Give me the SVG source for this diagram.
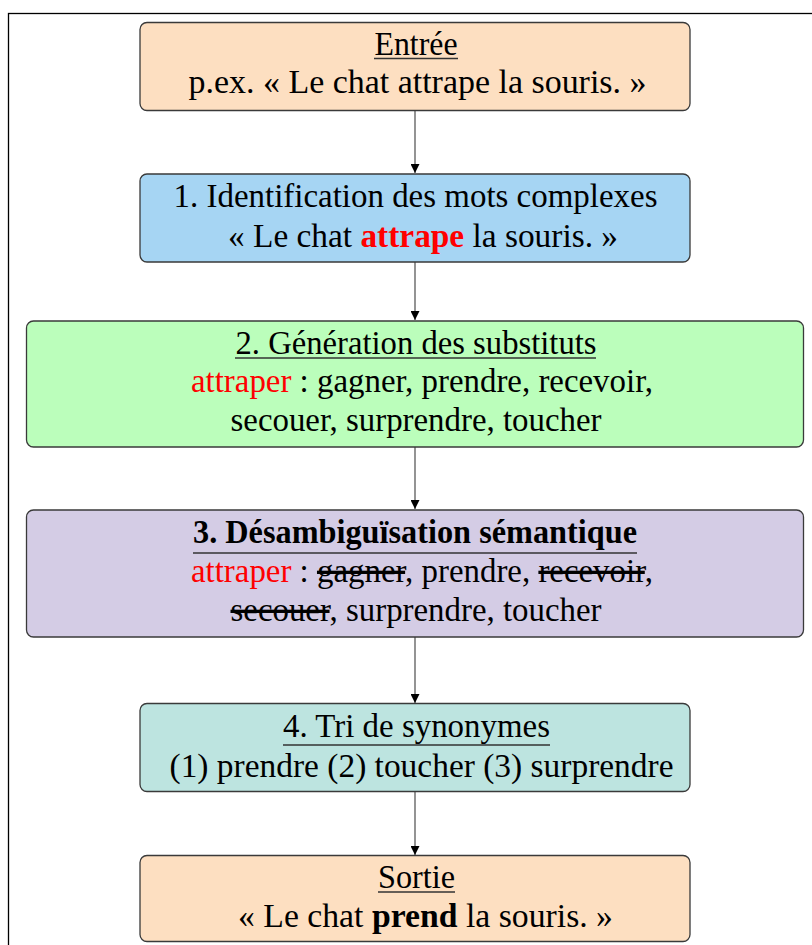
<svg xmlns="http://www.w3.org/2000/svg" width="812" height="945" viewBox="0 0 812 945">
<defs>
<style>
.box{stroke:#3a3a3a;stroke-width:1.3}
.t{font-family:"Liberation Serif","Times New Roman",serif;font-size:33px;fill:#000;text-anchor:middle}
.r{fill:#ff0000}
.b{font-weight:bold}
.s{text-decoration:line-through}
.ul{stroke:#333;stroke-width:1.3}
.conn{stroke:#666;stroke-width:1.4;fill:none}
</style>
<marker id="ah" viewBox="0 0 10 10" refX="10" refY="5" markerWidth="9" markerHeight="9" markerUnits="userSpaceOnUse" orient="auto">
<path d="M0,0 L10,5 L0,10 z" fill="#000"/>
</marker>
</defs>
<rect x="0" y="0" width="812" height="945" fill="#fff"/>
<rect x="8.5" y="13.5" width="900" height="1000" fill="none" stroke="#000" stroke-width="1.3"/>

<g id="connectors">
<line class="conn" x1="415" y1="111" x2="415" y2="173" marker-end="url(#ah)"/>
<line class="conn" x1="415" y1="262" x2="415" y2="320" marker-end="url(#ah)"/>
<line class="conn" x1="415" y1="447" x2="415" y2="509" marker-end="url(#ah)"/>
<line class="conn" x1="415" y1="637" x2="415" y2="703" marker-end="url(#ah)"/>
<line class="conn" x1="415" y1="791" x2="415" y2="855" marker-end="url(#ah)"/>
</g>

<g id="entree">
<rect class="box" x="140" y="22.5" width="550" height="88" rx="7" fill="#fddfc1"/>
<text class="t" x="416" y="55" textLength="83" lengthAdjust="spacingAndGlyphs">Entrée</text>
<line class="ul" x1="374" y1="58.5" x2="458" y2="58.5"/>
<text class="t" x="417.5" y="93" textLength="458" lengthAdjust="spacingAndGlyphs">p.ex. « Le chat attrape la souris. »</text>
</g>

<g id="step1">
<rect class="box" x="140" y="174" width="550" height="88" rx="7" fill="#a6d5f3"/>
<text class="t" x="415.5" y="207" textLength="484" lengthAdjust="spacingAndGlyphs">1. Identification des mots complexes</text>
<text class="t" x="423" y="247" textLength="390" lengthAdjust="spacingAndGlyphs">« Le chat <tspan class="b r">attrape</tspan> la souris. »</text>
</g>

<g id="step2">
<rect class="box" x="26.5" y="321" width="777" height="126" rx="7" fill="#bbfebb"/>
<text class="t" x="416" y="354" textLength="361" lengthAdjust="spacingAndGlyphs">2. Génération des substituts</text>
<line class="ul" x1="235" y1="358" x2="596" y2="358"/>
<text class="t" x="422" y="392" textLength="462" lengthAdjust="spacingAndGlyphs"><tspan class="r">attraper</tspan> : gagner, prendre, recevoir,</text>
<text class="t" x="416" y="431" textLength="371" lengthAdjust="spacingAndGlyphs">secouer, surprendre, toucher</text>
</g>

<g id="step3">
<rect class="box" x="26.5" y="510" width="777" height="127" rx="7" fill="#d4cce5"/>
<text class="t b" x="415" y="543" textLength="444" lengthAdjust="spacingAndGlyphs">3. Désambiguïsation sémantique</text>
<line class="ul" x1="193" y1="553" x2="637" y2="553"/>
<text class="t" x="422" y="582" textLength="462" lengthAdjust="spacingAndGlyphs"><tspan class="r">attraper</tspan> : <tspan class="s">gagner</tspan>, prendre, <tspan class="s">recevoir</tspan>,</text>
<text class="t" x="416" y="621" textLength="371" lengthAdjust="spacingAndGlyphs"><tspan class="s">secouer</tspan>, surprendre, toucher</text>
</g>

<g id="step4">
<rect class="box" x="140" y="703.5" width="550" height="88" rx="7" fill="#bde4e0"/>
<text class="t" x="416.5" y="737" textLength="267" lengthAdjust="spacingAndGlyphs">4. Tri de synonymes</text>
<line class="ul" x1="283" y1="745" x2="550" y2="745"/>
<text class="t" x="421.5" y="777" textLength="504" lengthAdjust="spacingAndGlyphs">(1) prendre (2) toucher (3) surprendre</text>
</g>

<g id="sortie">
<rect class="box" x="140" y="855.5" width="550" height="86" rx="7" fill="#fddfc1"/>
<text class="t" x="416.5" y="888" textLength="77" lengthAdjust="spacingAndGlyphs">Sortie</text>
<line class="ul" x1="378" y1="892" x2="455" y2="892"/>
<text class="t" x="425.5" y="927" textLength="375" lengthAdjust="spacingAndGlyphs">« Le chat <tspan class="b">prend</tspan> la souris. »</text>
</g>
</svg>
